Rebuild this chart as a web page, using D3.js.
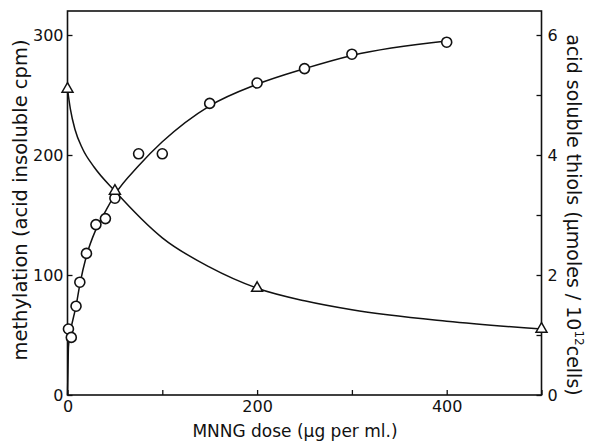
<!DOCTYPE html>
<html>
<head>
<meta charset="utf-8">
<script src="https://cdn.jsdelivr.net/npm/d3@7"></script>
<style>
  body { margin: 0; background: #fff; }
  svg text { font-family: "DejaVu Sans", sans-serif; fill: #111; }
</style>
</head>
<body>
<div id="chart"></div>
<script>
// methylation (circles), dose in ug/ml vs acid insoluble cpm
const methDose = [1, 4, 9, 13, 20, 30, 40, 50, 75, 100, 150, 200, 250, 300, 400];
const methCpm = [55, 48, 74, 94, 118, 142, 147, 164, 201, 201, 243, 260, 272, 284, 294];
// smooth line drawn through the circles
const methFitDose = [0, 0.5, 1, 3, 9, 13, 20, 30, 40, 50, 75, 100, 150, 200, 250, 300, 400];
const methFitCpm = [0, 20, 40, 52, 74, 92, 116, 138, 153, 167, 191, 211, 241, 259, 272, 283, 295];

// acid soluble thiols (triangles), umoles / 10^12 cells
const thiolDose = [0, 50, 200, 500];
const thiolVal = [5.1, 3.4, 1.78, 1.1];
const thiolFitDose = [0, 3, 8, 16, 28, 50, 100, 150, 200, 250, 300, 400, 500];
const thiolFitVal = [5.1, 4.77, 4.42, 4.1, 3.8, 3.4, 2.62, 2.13, 1.78, 1.57, 1.42, 1.23, 1.1];

const xTicks = [0, 100, 200, 300, 400, 500];
const xLabels = [0, 200, 400];
const yLeftTicks = [0, 100, 200, 300];
const yRightTicks = [0, 1, 2, 3, 4, 5, 6];
const yRightLabels = [0, 2, 4, 6];

const W = 590, H = 443;
const margin = { top: 11, right: 48.5, bottom: 48, left: 67.5 };
const width = W - margin.left - margin.right;
const height = H - margin.top - margin.bottom;

const svg = d3.select("#chart").append("svg")
    .attr("width", W).attr("height", H);
const g = svg.append("g")
    .attr("transform", `translate(${margin.left}, ${margin.top})`);

const x = d3.scaleLinear().domain([0, 500]).range([0, width]);
const yL = d3.scaleLinear().domain([0, 320]).range([height, 0]);
const yR = d3.scaleLinear().domain([0, 6.4]).range([height, 0]);

// frame
g.append("rect")
    .attr("width", width).attr("height", height)
    .attr("fill", "none").attr("stroke", "#111").attr("stroke-width", 1.6);

// axes with inward ticks
const fmt = (labels) => d => labels.includes(d) ? d : "";
const xAxis = g.append("g")
    .attr("transform", `translate(0, ${height})`)
    .call(d3.axisBottom(x).tickValues(xTicks).tickSizeInner(-5).tickSizeOuter(0).tickPadding(5).tickFormat(fmt(xLabels)));
const yAxisL = g.append("g")
    .call(d3.axisLeft(yL).tickValues(yLeftTicks).tickSizeInner(-5).tickSizeOuter(0).tickPadding(4));
const yAxisR = g.append("g")
    .attr("transform", `translate(${width}, 0)`)
    .call(d3.axisRight(yR).tickValues(yRightTicks).tickSizeInner(-5).tickSizeOuter(0).tickPadding(6).tickFormat(fmt(yRightLabels)));

for (let ax of [xAxis, yAxisL, yAxisR]) {
    ax.select(".domain").remove();
    ax.selectAll("line").attr("stroke", "#111").attr("stroke-width", 1.3);
    ax.selectAll("text").attr("font-size", 16).attr("fill", "#111");
}
xAxis.selectAll("text").attr("dy", "0.75em");

// fitted lines
const methLine = d3.line()
    .x(i => x(methFitDose[i]))
    .y(i => yL(methFitCpm[i]))
    .curve(d3.curveMonotoneX);
g.append("path")
    .attr("d", methLine(d3.range(methFitDose.length)))
    .attr("fill", "none").attr("stroke", "#111").attr("stroke-width", 1.5);

const thiolLine = d3.line()
    .x(i => x(thiolFitDose[i]))
    .y(i => yR(thiolFitVal[i]))
    .curve(d3.curveMonotoneX);
g.append("path")
    .attr("d", thiolLine(d3.range(thiolFitDose.length)))
    .attr("fill", "none").attr("stroke", "#111").attr("stroke-width", 1.5);

// markers
g.selectAll("circle.meth")
    .data(d3.range(methDose.length))
    .join("circle")
    .attr("class", "meth")
    .attr("cx", i => x(methDose[i]))
    .attr("cy", i => yL(methCpm[i]))
    .attr("r", 5)
    .attr("fill", "#fff").attr("stroke", "#111").attr("stroke-width", 1.6);

const tri = d3.symbol().type(d3.symbolTriangle).size(52);
g.selectAll("path.thiol")
    .data(d3.range(thiolDose.length))
    .join("path")
    .attr("class", "thiol")
    .attr("d", tri)
    .attr("transform", i => `translate(${x(thiolDose[i])}, ${yR(thiolVal[i])})`)
    .attr("fill", "#fff").attr("stroke", "#111").attr("stroke-width", 1.5);

// axis titles
svg.append("text")
    .attr("x", 295).attr("y", 437)
    .attr("text-anchor", "middle").attr("font-size", 17)
    .text("MNNG dose (\u03bcg per ml.)");

svg.append("text")
    .attr("transform", `translate(27, 200) rotate(-90)`)
    .attr("text-anchor", "middle").attr("font-size", 19.5)
    .text("methylation (acid insoluble cpm)");

const rt = svg.append("text")
    .attr("transform", `translate(567, 215) rotate(90)`)
    .attr("text-anchor", "middle").attr("font-size", 19);
rt.append("tspan").text("acid soluble thiols (\u03bcmoles / 10");
rt.append("tspan").attr("font-size", 12).attr("dy", -8).text("12");
rt.append("tspan").attr("dy", 8).text("cells)");
</script>
</body>
</html>
